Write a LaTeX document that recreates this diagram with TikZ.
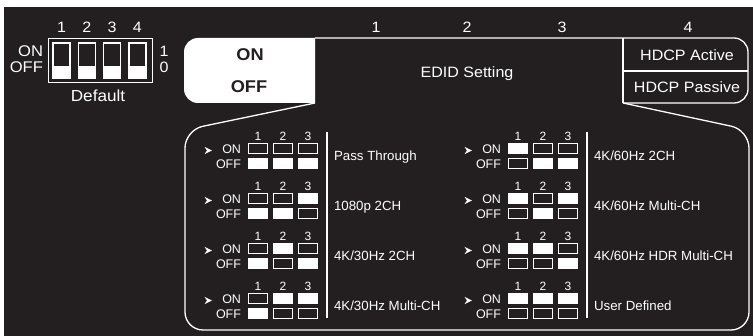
\documentclass[tikz,border=0pt]{standalone}
\usepackage{fontspec}
\setmainfont{Liberation Sans}
\newfontfamily\widesf{Liberation Sans}[FakeStretch=1.07]
\definecolor{bgdark}{HTML}{231F20}
\tikzset{
  every node/.style={inner sep=0pt, outer sep=0pt},
  ln/.style={draw=white, line width=1.3pt},
  topnum/.style={text=white, font=\widesf\fontsize{15}{17}\selectfont, anchor=base},
  hdr/.style={text=white, font=\widesf\fontsize{15}{17}\selectfont, anchor=base},
  onoff/.style={text=bgdark, font=\widesf\bfseries\fontsize{17}{19}\selectfont, anchor=base},
  sm/.style={text=white, font=\fontsize{12.5}{14}\selectfont},
  lab/.style={text=white, font=\fontsize{13.3}{15}\selectfont, anchor=base west},
  sw/.style={draw=white, line width=1.2pt, minimum width=19pt, minimum height=10pt},
}
\begin{document}
\begin{tikzpicture}[x=1pt,y=-1pt]
\useasboundingbox (0,0) rectangle (753,336);
\fill[white] (0,0) rectangle (753,336);
\fill[bgdark] (4,7) rectangle (753,336);

% ---- default DIP switch (top left)
\draw[white, line width=1pt] (48,39) rectangle (152,83);
\foreach \k in {0,...,3} {
  \pgfmathsetmacro\xx{53+25.3*\k}
  \pgfmathtruncatemacro\kk{\k+1}
  \fill[white] (\xx,66) rectangle ++(17,12);
  \draw[white, line width=1.2pt] (\xx,43) rectangle ++(17,35);
  \node[topnum] (dipnum\kk) at (\xx+8.5,33) {\kk};
}
\node[topnum, anchor=base east, font=\widesf\fontsize{15.5}{17}\selectfont] (dipon) at (43,57) {ON};
\node[topnum, anchor=base east, font=\widesf\fontsize{15.5}{17}\selectfont] (dipoff) at (43,73) {OFF};
\node[topnum] (dipone) at (164,57) {1};
\node[topnum] (dipzero) at (164,73) {0};
\node[topnum, font=\widesf\fontsize{16}{18}\selectfont] (default) at (98,102) {Default};

% ---- top numbers
\node[topnum] (t1) at (376,33) {1};
\node[topnum] (t2) at (467,33) {2};
\node[topnum] (t3) at (562,33) {3};
\node[topnum] (t4) at (688,33) {4};

% ---- ON/OFF white box
\begin{scope}
  \clip (0,0) rectangle (315,336);
  \fill[white, rounded corners=14] (184,38) rectangle (340,103);
\end{scope}
\node[onoff] (bon) at (250,60.7) {ON};
\node[onoff] (boff) at (249,93) {OFF};

% ---- top outline and HDCP box
\draw[ln, rounded corners=14] (315,38) -- (748,38) -- (748,103) -- (623,103);
\draw[ln] (623,38) -- (623,103);
\draw[ln] (623,71) -- (748,71);
\node[hdr] (edid) at (467,77.5) {EDID Setting};
\node[hdr] (hact) at (687,61) {HDCP Active};
\node[hdr] (hpas) at (687,92.5) {HDCP Passive};

% ---- lower callout
\draw[ln, rounded corners=18] (315,103) -- (185,130) -- (185,330) -- (749,330) -- (749,130) -- (623,103);

% ---- EDID table
\foreach \c in {0,1} {
  \pgfmathsetmacro\dx{260*\c}
  \draw[white, line width=1.8pt] (327+\dx,132) -- (327+\dx,318);
  \foreach \r in {0,...,3} {
    \pgfmathsetmacro\dy{50*\r}
    \pgfmathtruncatemacro\n{4*\c+\r}
    \fill[white] (204.5+\dx,146.8+\dy) -- (212+\dx,150.5+\dy) -- (204.5+\dx,154.2+\dy) -- (207+\dx,150.5+\dy) -- cycle;
    \node[sm, anchor=east] (on\c\r) at (241+\dx,149.5+\dy) {ON};
    \node[sm, anchor=east] (off\c\r) at (241+\dx,164+\dy) {OFF};
    \foreach \k in {1,2,3} {
      \pgfmathtruncatemacro\b{mod(floor(\n/2^(3-\k)),2)}
      \pgfmathsetmacro\sx{233+25*\k+\dx}
      \ifnum\b=1 \def\onfill{white}\def\offfill{bgdark}\else \def\onfill{bgdark}\def\offfill{white}\fi
      \node[sm, anchor=base, font=\fontsize{12}{14}\selectfont] (num\c\r\k) at (\sx,141+\dy) {\k};
      \node[sw, fill=\onfill] (son\c\r\k) at (\sx,148.5+\dy) {};
      \node[sw, fill=\offfill] (soff\c\r\k) at (\sx,163.5+\dy) {};
    }
    \node[lab] (lab\c\r) at (334+\dx,161+\dy) {\ifcase\n Pass Through\or 1080p 2CH\or 4K/30Hz 2CH\or 4K/30Hz Multi-CH\or 4K/60Hz 2CH\or 4K/60Hz Multi-CH\or 4K/60Hz HDR Multi-CH\or User Defined\fi};
  }
}
\end{tikzpicture}
\end{document}
